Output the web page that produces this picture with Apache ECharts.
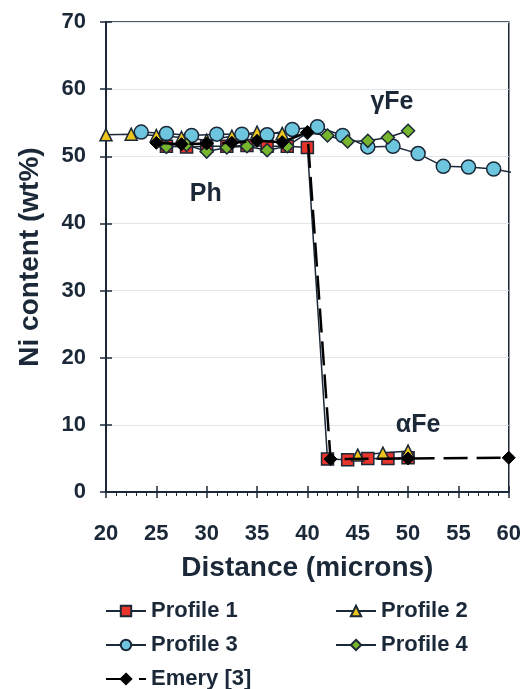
<!DOCTYPE html>
<html><head><meta charset="utf-8">
<script src="https://cdn.jsdelivr.net/npm/echarts@6/dist/echarts.min.js"></script>
<style>html,body{margin:0;padding:0;background:#fff}#c{width:524px;height:689px}</style>
</head><body><div id="c"></div>
<script>
// Data
const p1X = [26, 28, 30, 32, 34, 36, 38, 40, 42, 44, 46, 48, 50];
const p1Y = [51.5, 51.4, 51.5, 51.5, 51.6, 51.5, 51.5, 51.3, 4.9, 4.8, 5.0, 5.0, 5.1];
const p2X = [20, 22.5, 25, 27.5, 30, 32.5, 35, 37.5, null, 45, 47.5, 50];
const p2Y = [53.2, 53.3, 53.1, 52.8, 52.4, 53.0, 53.6, 53.4, null, 5.5, 5.8, 6.1];
const p3X = [23.5, 26, 28.5, 31, 33.5, 36, 38.5, 41, 43.5, 46, 48.5, 51, 53.5, 56, 58.5, 61];
const p3Y = [53.6, 53.4, 53.1, 53.3, 53.3, 53.2, 54.0, 54.4, 53.1, 51.4, 51.5, 50.4, 48.5, 48.4, 48.1, 47.4];
const p4X = [26, 28, 30, 32, 34, 36, 38, 40, 42, 44, 46, 48, 50];
const p4Y = [51.4, 51.7, 50.7, 51.3, 51.5, 50.9, 51.5, 53.5, 53.1, 52.2, 52.3, 52.8, 53.8];
const emX = [25, 27.5, 30, 32.5, 35, 37.5, 40, 42.3, 50, 60];
const emY = [52.0, 51.8, 51.9, 52.0, 52.3, 52.1, 53.6, 4.9, 5.0, 5.1];
const annoText = ['γFe', 'Ph', 'αFe'];
const annoX = [48.4, 29.9, 51.0];
const annoY = [58.1, 44.4, 10.0];
const names = ['Profile 1', 'Profile 2', 'Profile 3', 'Profile 4', 'Emery [3]'];

const dark = '#1b2838';
const font = 'Liberation Sans, Arial, sans-serif';
function pts(xs, ys){ return xs.map((x,i)=> x===null ? [null,null] : [x, ys[i]]); }
function ser(name, xs, ys, symbol, color, size, extra){
  return Object.assign({
    name, type:'line', data: pts(xs, ys), symbol, symbolSize:size, clip:true,
    connectNulls:false, z:3,
    itemStyle:{color, borderColor:dark, borderWidth:1.5},
    lineStyle:{color:dark, width:1.5}
  }, extra||{});
}
const series = [
  ser(names[0], p1X, p1Y, 'rect', '#e8342b', 12),
  ser(names[1], p2X, p2Y, 'triangle', '#ecc41c', 12),
  ser(names[2], p3X, p3Y, 'circle', '#6ec6de', 14),
  ser(names[3], p4X, p4Y, 'diamond', '#78b52e', 13),
  ser(names[4], emX, emY, 'diamond', '#000', 13, {
    itemStyle:{color:'#000', borderColor:'#000', borderWidth:1},
    lineStyle:{color:'#000', width:2.5, type:[24,9]}, z:4
  }),
  {
    type:'scatter', silent:true, symbolSize:0, z:5,
    itemStyle:{opacity:1},
    data: annoX.map((x,i)=>({value:[x, annoY[i]], name:annoText[i]})),
    label:{show:true, position:'inside', formatter: p=>p.name, opacity:1,
      fontFamily:font, fontWeight:'bold', fontSize:25, color:dark}
  }
];
function leg(name, left, top){
  return {data:[name], left, top, itemWidth:40, itemHeight:13, itemGap:4, padding:0,
    textStyle:{fontFamily:font, fontWeight:'bold', fontSize:22, color:dark}, selectedMode:false};
}
const chart = echarts.init(document.getElementById('c'), null, {renderer:'canvas'});
chart.setOption({
  animation:false,
  backgroundColor:'#fff',
  grid:{left:106, right:12, top:22, bottom:197, show:true, borderColor:dark, borderWidth:1.5, backgroundColor:'transparent'},
  legend:[
    leg(names[0], 105, 600), leg(names[1], 335, 600),
    leg(names[2], 105, 634), leg(names[3], 335, 634),
    leg(names[4], 105, 668)
  ],
  xAxis:[{
    type:'value', min:20, max:60, interval:5,
    name:'Distance (microns)', nameLocation:'middle', nameGap:62,
    nameTextStyle:{fontFamily:font, fontWeight:'bold', fontSize:28, color:dark},
    axisLine:{show:true, lineStyle:{color:dark, width:2}},
    axisTick:{show:true, length:6, lineStyle:{color:dark, width:1.5}},
    minorTick:{show:true, splitNumber:5, length:4, lineStyle:{color:dark, width:1}},
    axisLabel:{margin:31, fontFamily:font, fontWeight:'bold', fontSize:22, color:dark},
    splitLine:{show:false}
  },{
    type:'value', min:20, max:60, interval:5, position:'bottom',
    axisLine:{show:false}, axisLabel:{show:false}, splitLine:{show:false},
    axisTick:{show:true, inside:true, length:6, lineStyle:{color:dark, width:1.5}},
    minorTick:{show:false}
  }],
  yAxis:[{
    type:'value', min:0, max:70, interval:10,
    name:'Ni content (wt%)', nameLocation:'middle', nameGap:62,
    nameTextStyle:{fontFamily:font, fontWeight:'bold', fontSize:28, color:dark},
    axisLine:{show:true, lineStyle:{color:dark, width:2}},
    axisTick:{show:true, length:6, lineStyle:{color:dark, width:1.5}},
    axisLabel:{margin:20, fontFamily:font, fontWeight:'bold', fontSize:22, color:dark},
    splitLine:{show:true, lineStyle:{color:'#dfe7ec', width:1}}
  },{
    type:'value', min:0, max:70, interval:10, position:'left',
    axisLine:{show:false}, axisLabel:{show:false}, splitLine:{show:false},
    axisTick:{show:true, inside:true, length:6, lineStyle:{color:dark, width:1.5}}
  }],
  series
});
</script></body></html>
